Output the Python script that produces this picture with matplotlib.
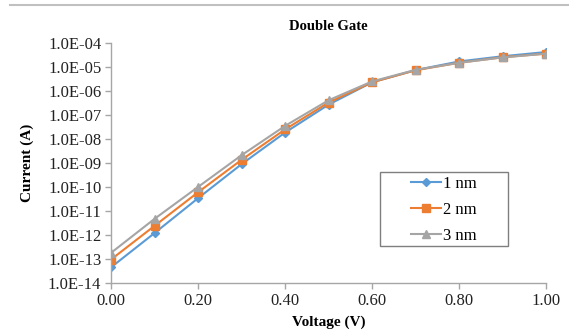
import math
import matplotlib
matplotlib.use("Agg")
import matplotlib.pyplot as plt
from matplotlib.lines import Line2D
from matplotlib.patches import Rectangle
from matplotlib.ticker import FixedLocator, FuncFormatter, NullLocator

plt.rcParams['font.family'] = ['Liberation Serif', 'DejaVu Serif']

voltage = [0.0, 0.1, 0.2, 0.3, 0.4, 0.5, 0.6, 0.7, 0.8, 0.9, 1.0]
current_1nm = [4.5e-14, 1.2e-12, 3.4e-11, 8.9e-10, 1.85e-8, 2.7e-7, 2.3e-6, 7.4e-6, 1.7e-5, 2.8e-5, 4.2e-5]
current_2nm = [9.5e-14, 2.4e-12, 6.0e-11, 1.35e-9, 2.5e-8, 3.3e-7, 2.3e-6, 7.3e-6, 1.5e-5, 2.55e-5, 3.6e-5]
current_3nm = [1.8e-13, 4.7e-12, 1.0e-10, 2.1e-9, 3.5e-8, 4.1e-7, 2.5e-6, 7.6e-6, 1.5e-5, 2.5e-5, 3.6e-5]
labels = ['1 nm', '2 nm', '3 nm']
x_ticks = [0.0, 0.2, 0.4, 0.6, 0.8, 1.0]
y_exponents = list(range(-14, -3))

W, H = 569, 334
fig = plt.figure(figsize=(W/100, H/100), dpi=100)
ax = fig.add_axes([111/W, 1 - 283/H, (546 - 111)/W, (283 - 43)/H])

series = [
    (current_1nm, '#5B9BD5', 'D', 4.0),
    (current_2nm, '#ED7D31', 's', 5.5),
    (current_3nm, '#A5A5A5', '^', 6.0),
]
for (vals, color, marker, ms), lab in zip(series, labels):
    ax.plot(voltage, vals, color=color, marker=marker, markersize=ms,
            linewidth=1.5, label=lab)

ax.set_yscale('log')
ax.set_ylim(1e-14, 1e-4)
ax.set_xlim(0, 1.0)
ax.yaxis.set_major_locator(FixedLocator([10.0**e for e in y_exponents]))
ax.yaxis.set_minor_locator(NullLocator())
ax.yaxis.set_major_formatter(FuncFormatter(lambda v, p: "1.0E-%02d" % round(-math.log10(v))))
ax.set_xticks(x_ticks)
ax.set_xticklabels(["%.2f" % t for t in x_ticks])

for s in ['top', 'right']:
    ax.spines[s].set_visible(False)
for s in ['left', 'bottom']:
    ax.spines[s].set_color('#A6A6A6')
    ax.spines[s].set_linewidth(1.0)
ax.tick_params(axis='both', colors='#A6A6A6', labelcolor='#222222', labelsize=12, length=4, width=1)
ax.tick_params(axis='x', pad=3)
ax.tick_params(axis='y', pad=3)

ax.set_title('Double Gate', fontsize=10.5, fontweight='bold', pad=9)
ax.set_xlabel('Voltage (V)', fontsize=11, fontweight='bold', labelpad=5)
ax.set_ylabel('Current (A)', fontsize=11, fontweight='bold', labelpad=10)

# legend box (frame drawn separately to match wide side padding)
fig.add_artist(Rectangle((380/W, 1 - 246/H), (508 - 380)/W, (246 - 172)/H,
                         transform=fig.transFigure, facecolor='white',
                         edgecolor='#7F7F7F', linewidth=1.0, zorder=5))
leg = fig.legend(loc='center', bbox_to_anchor=(444/W, 1 - 210/H),
                 frameon=False, fontsize=12, handlelength=1.8,
                 borderpad=0.0, labelspacing=0.6, handletextpad=0.15)
leg.set_zorder(6)

fig.add_artist(Line2D([10/W, 1.0], [1 - 5/H, 1 - 5/H], color='#C0C0C0', linewidth=1.5))

fig.savefig('out.png', dpi=100)
